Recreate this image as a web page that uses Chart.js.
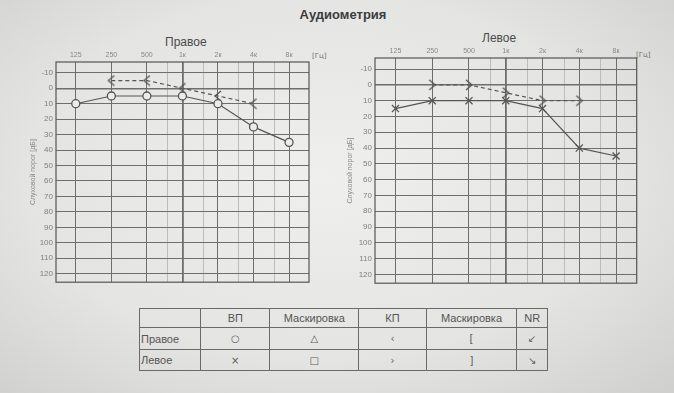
<!DOCTYPE html>
<html>
<head>
<meta charset="utf-8">
<script src="https://cdn.jsdelivr.net/npm/chart.js@4"></script>
<style>
body { margin:0; width:674px; height:393px; overflow:hidden; position:relative;
  background: radial-gradient(ellipse at 48% 45%, #efefed 0%, #e4e4e2 60%, #cfcfcd 100%);
  font-family: "Liberation Sans", Arial, sans-serif; color:#444; }
.abs { position:absolute; }
.title { left:0; width:686px; top:7px; text-align:center; font-weight:bold; font-size:13px; color:#3c3c3c; }
.ear { font-size:12px; color:#4a4a4a; }
.hz { font-size:7px; color:#6e6e6e; font-family:"DejaVu Sans", sans-serif; }
table { border-collapse:collapse; font-size:11px; color:#555; }
td { border:1px solid #6a6a6a; padding:0; text-align:center; }
td.lab { text-align:left; padding-left:1px; }
td.sym { font-family:"DejaVu Sans", sans-serif; font-size:10px; color:#5a5a5a; }
</style>
</head>
<body>
<div class="abs title">Аудиометрия</div>
<div class="abs ear" style="left:165px;top:35px">Правое</div>
<div class="abs ear" style="left:482px;top:31px">Левое</div>
<div class="abs hz" style="left:312px;top:52px">[Гц]</div>
<div class="abs hz" style="left:636px;top:51px">[Гц]</div>
<div class="abs" style="left:6px;top:40px;width:310px;height:250px"><canvas id="right-ear"></canvas></div>
<div class="abs" style="left:325px;top:36px;width:318px;height:255px"><canvas id="left-ear"></canvas></div>
<table class="abs" style="left:139px;top:308px;width:409px;height:62px">
  <tr style="height:19px"><td style="width:61px"></td><td style="width:70px">ВП</td><td style="width:89px">Маскировка</td><td style="width:68px">КП</td><td style="width:91px">Маскировка</td><td style="width:30px">NR</td></tr>
  <tr style="height:22px"><td class="lab">Правое</td><td class="sym">○</td><td class="sym">△</td><td class="sym">‹</td><td class="sym">[</td><td class="sym">↙</td></tr>
  <tr style="height:21px"><td class="lab">Левое</td><td class="sym">×</td><td class="sym">□</td><td class="sym">›</td><td class="sym">]</td><td class="sym">↘</td></tr>
</table>
<script>
// частоты и подписи
const freqs = [125, 250, 500, 1000, 2000, 4000, 8000];
const freqLabels = ['125', '250', '500', '1к', '2к', '4к', '8к'];
const minorFreqs = [750, 1500, 3000, 6000];
const dbTicks = [-10, 0, 10, 20, 30, 40, 50, 60, 70, 80, 90, 100, 110, 120];

// правое ухо
const rightAir = [10, 5, 5, 5, 10, 25, 35];
const boneFreqs = [250, 500, 1000, 2000, 4000];
const rightBone = [-5, -5, 0, 5, 10];
// левое ухо
const leftAir = [15, 10, 10, 10, 15, 40, 45];
const leftBone = [0, 0, 5, 10, 10];

const ink = '#565656';

function bracket(dir) {
  const c = document.createElement('canvas');
  c.width = 10; c.height = 12;
  const g = c.getContext('2d');
  g.strokeStyle = ink; g.lineWidth = 1.3;
  g.beginPath();
  if (dir === '<') { g.moveTo(8, 1); g.lineTo(2, 6); g.lineTo(8, 11); }
  else { g.moveTo(2, 1); g.lineTo(8, 6); g.lineTo(2, 11); }
  g.stroke();
  return c;
}

const frame = {
  id: 'frame',
  afterDraw(chart) {
    const { ctx, chartArea: a } = chart;
    ctx.save();
    ctx.strokeStyle = '#555'; ctx.lineWidth = 1.2;
    ctx.strokeRect(a.left, a.top, a.right - a.left, a.bottom - a.top);
    ctx.restore();
  }
};

function makeChart(canvas, air, bone, airStyle, boneMark, titlePad, padRight) {
  return new Chart(canvas.getContext('2d'), {
    type: 'line',
    data: {
      datasets: [
        {
          data: freqs.map((f, i) => ({ x: f, y: air[i] })),
          borderColor: ink, borderWidth: 1.2,
          pointStyle: airStyle, pointRadius: airStyle === 'circle' ? 4 : 5,
          pointBorderColor: ink, pointBorderWidth: 1.3, pointBackgroundColor: '#ececea'
        },
        {
          data: boneFreqs.map((f, i) => ({ x: f, y: bone[i] })),
          borderColor: ink, borderWidth: 1.2, borderDash: [4, 3],
          pointStyle: bracket(boneMark), pointRadius: 5
        }
      ]
    },
    options: {
      responsive: true, maintainAspectRatio: false, animation: false,
      layout: { padding: { right: padRight, bottom: 4 } },
      plugins: { legend: { display: false }, tooltip: { enabled: false } },
      scales: {
        x: {
          type: 'logarithmic', position: 'top', min: 85, max: 11800,
          afterBuildTicks: s => { s.ticks = freqs.concat(minorFreqs).map(v => ({ value: v })); },
          afterFit: s => { s.height = 22; },
          ticks: { autoSkip: false, maxRotation: 0, padding: 3, color: '#888', font: { size: 7 },
            callback: v => { const i = freqs.indexOf(v); return i < 0 ? '' : freqLabels[i]; } },
          grid: { drawTicks: false,
            color: c => minorFreqs.includes(c.tick && c.tick.value) ? '#bcbcbc' : '#6e6e6e',
            lineWidth: c => (c.tick && c.tick.value === 1000) ? 1.8 : 1 },
          border: { display: false }
        },
        y: {
          reverse: true, min: -17, max: 125.5,
          afterBuildTicks: s => { s.ticks = dbTicks.map(v => ({ value: v })); },
          afterFit: s => { s.width = 50; },
          ticks: { padding: 3, color: '#808080', font: { size: 8 } },
          grid: { drawTicks: false, color: '#6e6e6e',
            lineWidth: c => (c.tick && c.tick.value === 0) ? 1.5 : 1 },
          border: { display: false },
          title: { display: true, text: 'Слуховой порог [дБ]', color: '#8a8a8a',
            font: { size: 7 }, padding: { top: titlePad, bottom: 0 } }
        }
      }
    },
    plugins: [frame]
  });
}

makeChart(document.getElementById('right-ear'), rightAir, rightBone, 'circle', '<', 23, 7);
makeChart(document.getElementById('left-ear'), leftAir, leftBone, 'crossRot', '>', 21, 6);
</script>
</body>
</html>
